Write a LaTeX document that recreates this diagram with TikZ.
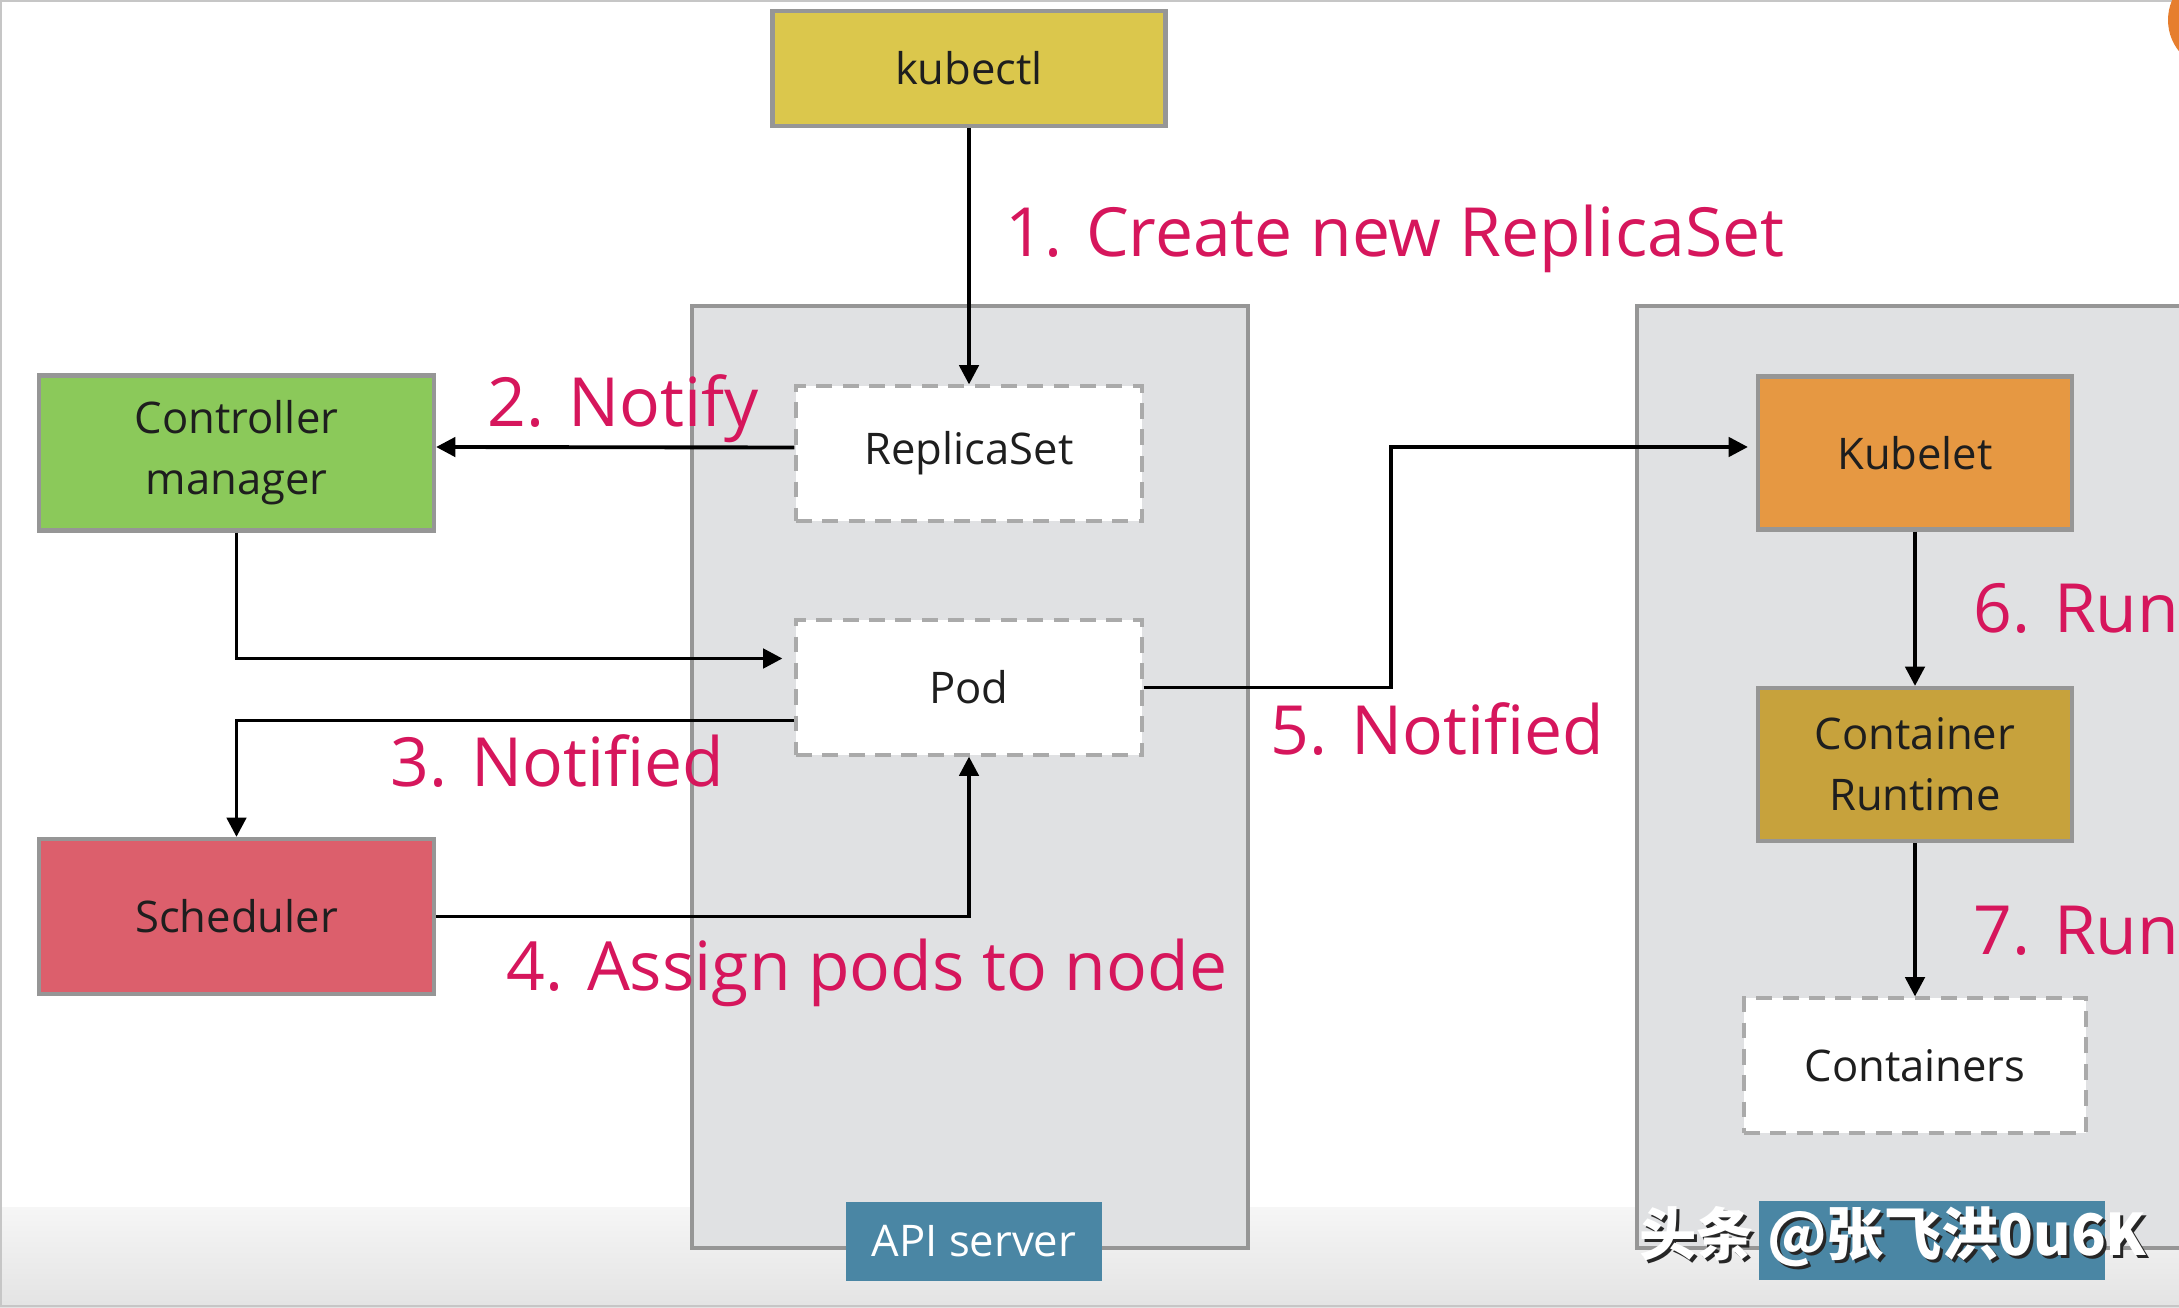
\documentclass[tikz,border=0pt]{standalone}
\usepackage{fontspec}
\setmainfont{Open Sans}
\newfontfamily\cjk{Noto Sans CJK SC}
\usetikzlibrary{positioning,calc,arrows.meta}

\definecolor{kctlyellow}{RGB}{219,199,76}
\definecolor{ctrlgreen}{RGB}{139,201,90}
\definecolor{schedred}{RGB}{220,95,108}
\definecolor{kletorange}{RGB}{230,152,66}
\definecolor{runtimegold}{RGB}{199,162,60}
\definecolor{hostgray}{RGB}{224,225,227}
\definecolor{boxgray}{RGB}{150,150,150}
\definecolor{dashgray}{RGB}{170,170,170}
\definecolor{tagblue}{RGB}{74,134,164}
\definecolor{stepred}{RGB}{214,22,92}
\definecolor{textdark}{RGB}{30,30,30}
\definecolor{dotorange}{RGB}{230,126,46}

\newcommand{\blockfont}{\fontsize{12.4}{17.4}\selectfont}
\newcommand{\stepfont}{\fontsize{19.3}{23}\selectfont}
\newcommand{\markfont}{\cjk\bfseries\fontsize{16.3}{18}\selectfont}

\tikzstyle{block} = [draw=boxgray, line width=1.2pt, rectangle, minimum height=1.53cm, minimum width=3.95cm, align=center, text=textdark, font=\blockfont]
\tikzstyle{object} = [draw=dashgray, fill=white, line width=0.9pt, dash pattern=on 4.5pt off 3pt, rectangle, minimum height=1.35cm, minimum width=3.46cm, align=center, text=textdark, font=\blockfont]
\tikzstyle{host} = [draw=boxgray, fill=hostgray, line width=1.1pt]
\tikzstyle{tag} = [fill=tagblue, rectangle, minimum height=0.79cm, text=white, font=\blockfont]
\tikzstyle{steplabel} = [anchor=base west, inner sep=0pt, text=stepred, font=\stepfont]
\tikzstyle{arrow} = [line width=1.1pt,->,>={Triangle[length=5.5pt,width=5.5pt]}]

\begin{document}
\begin{tikzpicture}

    \useasboundingbox (0,0) rectangle (21.79,-13.08);
    \clip (0,0) rectangle (21.79,-13.08);

    % slide background
    \fill[white] (0,0) rectangle (21.79,-13.08);
    \shade[top color={rgb,255:red,246;green,246;blue,246}, bottom color={rgb,255:red,227;green,227;blue,227}] (0,-12.07) rectangle (21.79,-13.08);
    \draw[gray!45, line width=0.8pt] (21.79,-0.01) -- (0.01,-0.01) -- (0.01,-13.06) -- (21.79,-13.06);
    \fill[dotorange] (22.18,-0.20) circle (0.50);

    % hosts
    \draw[host] (6.92,-3.06) rectangle (12.48,-12.48);
    \draw[host] (16.37,-3.06) rectangle (22.60,-12.48);
    \node[tag, minimum width=2.56cm] (apitag) at (9.74,-12.415) {API server};
    \node[tag, minimum width=3.46cm] (nodetag) at (19.32,-12.405) {};

    % components
    \node[block, fill=kctlyellow, minimum width=3.93cm, minimum height=1.15cm] (kubectl) at (9.69,-0.685) {kubectl};
    \node[block, fill=ctrlgreen, minimum height=1.55cm] (cm)  at (2.365,-4.53) {Controller\\manager};
    \node[block, fill=schedred,  minimum height=1.55cm] (sch) at (2.365,-9.165) {Scheduler};
    \node[object] (rs)  at (9.69,-4.535) {ReplicaSet};
    \node[object] (pod) at (9.69,-6.875) {Pod};
    \node[block, fill=kletorange,  minimum width=3.14cm] (kl) at (19.15,-4.53) {Kubelet};
    \node[block, fill=runtimegold, minimum width=3.14cm] (cr) at (19.15,-7.645) {Container\\Runtime};
    \node[object, minimum width=3.42cm] (ctr) at (19.15,-10.655) {Containers};

    % connectors
    \draw[arrow] (kubectl) -- (rs);
    \draw[arrow] ([yshift=0.6mm]rs.west) -- ([yshift=0.6mm]cm.east);
    \draw[arrow, shorten >=1.2mm] (cm.south) |- ([yshift=2.9mm]pod.west);
    \draw[arrow] ([yshift=-3.3mm]pod.west) -| (sch.north);
    \draw[arrow] (sch.east) -| (pod.south);
    \draw[arrow, shorten >=0.8mm] (pod.east) -- ++(2.47,0) |- ([yshift=0.6mm]kl.west);
    \draw[arrow] (kl) -- (cr);
    \draw[arrow] (cr) -- (ctr);

    % step labels
    \node[steplabel] (s1) at (10.05,-2.57) {1. Create new ReplicaSet};
    \node[steplabel] (s2) at (4.87,-4.27)  {2. Notify};
    \node[steplabel] (s3) at (3.90,-7.86)  {3. Notified};
    \node[steplabel] (s4) at (5.06,-9.90)  {4. Assign pods to node};
    \node[steplabel] (s5) at (12.70,-7.54) {5. Notified};
    \node[steplabel] (s6) at (19.73,-6.33) {6. Run};
    \node[steplabel] (s7) at (19.73,-9.54) {7. Run};

    % watermark (dark shadow under white text)
    \node[text=black!85, font=\markfont, inner sep=0pt] (wmshadow) at (18.96,-12.40) {头条 @张飞洪0u6K};
    \node[text=white,    font=\markfont, inner sep=0pt] (wm)       at (18.93,-12.37) {头条 @张飞洪0u6K};

\end{tikzpicture}
\end{document}
